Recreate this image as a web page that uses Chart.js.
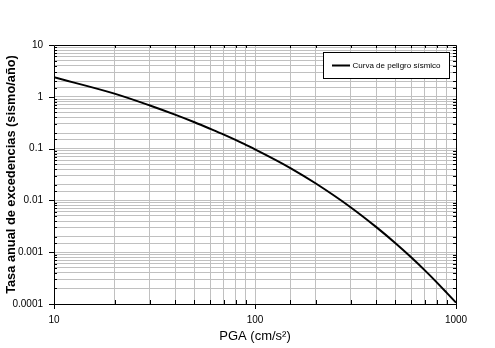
<!DOCTYPE html>
<html>
<head>
<meta charset="utf-8">
<script src="https://cdn.jsdelivr.net/npm/chart.js@4.4.1/dist/chart.umd.min.js"></script>
<style>
html,body{margin:0;padding:0;background:#fff;}
#wrap{width:495px;height:348px;position:relative;}
</style>
</head>
<body>
<div id="wrap"><canvas id="c" width="495" height="348"></canvas></div>
<script>
// Data
const pga = [10, 20, 30, 40, 50, 60, 70, 80, 90, 100, 150, 200, 300, 400, 500, 600, 700, 800, 900, 1000];
const exceedanceRate = [2.38, 1.15, 0.679, 0.452, 0.322, 0.240, 0.186, 0.147, 0.118, 0.0968, 0.0422, 0.0214, 0.00731, 0.00308, 0.00149, 0.000789, 0.000446, 0.000265, 0.000164, 0.000106];
const seriesLabel = 'Curva de peligro sísmico';
const xTickLabels = ['10', '100', '1000'];
const yTickLabels = ['0.0001', '0.001', '0.01', '0.1', '1', '10'];
const xTitle = 'PGA (cm/s²)';
const yTitle = 'Tasa anual de excedencias (sismo/año)';

const FONT = "'Liberation Sans', Arial, sans-serif";

function isDecade(v) {
  const l = Math.log10(v);
  return Math.abs(l - Math.round(l)) < 1e-6;
}
function labelFor(list, v) {
  if (!isDecade(v)) return '';
  const target = Math.round(Math.log10(v));
  for (const s of list) {
    if (Math.round(Math.log10(parseFloat(s))) === target) return s;
  }
  return '';
}

const framePlugin = {
  id: 'frame',
  afterDatasetsDraw(chart) {
    const {ctx, chartArea: a, scales} = chart;
    ctx.save();
    ctx.strokeStyle = '#000';
    ctx.lineWidth = 1;
    ctx.beginPath();
    scales.x.ticks.forEach(t => {
      const px = Math.round(scales.x.getPixelForValue(t.value)) + 0.5;
      if (isDecade(t.value)) {
        ctx.moveTo(px, a.bottom); ctx.lineTo(px, a.bottom + 5);
      } else {
        ctx.moveTo(px, a.bottom); ctx.lineTo(px, a.bottom - 4);
        ctx.moveTo(px, a.top); ctx.lineTo(px, a.top + 3);
      }
    });
    scales.y.ticks.forEach(t => {
      const py = Math.round(scales.y.getPixelForValue(t.value)) + 0.5;
      if (isDecade(t.value)) {
        ctx.moveTo(a.left, py); ctx.lineTo(a.left - 5, py);
      } else {
        ctx.moveTo(a.left, py); ctx.lineTo(a.left + 3, py);
        ctx.moveTo(a.right, py); ctx.lineTo(a.right - 3, py);
      }
    });
    ctx.stroke();
    ctx.beginPath();
    ctx.rect(Math.round(a.left) + 0.5, Math.round(a.top) + 0.5, Math.round(a.right - a.left), Math.round(a.bottom - a.top));
    ctx.stroke();

    // legend box
    const lx = 323, ly = 52, lw = 126, lh = 26;
    ctx.fillStyle = '#fff';
    ctx.fillRect(lx, ly, lw, lh);
    ctx.strokeRect(lx + 0.5, ly + 0.5, lw, lh);
    ctx.lineWidth = 2;
    ctx.beginPath();
    ctx.moveTo(332, 65.5); ctx.lineTo(350, 65.5);
    ctx.stroke();
    ctx.fillStyle = '#000';
    ctx.font = '8px ' + FONT;
    ctx.textBaseline = 'middle';
    ctx.textAlign = 'left';
    ctx.fillText(chart.data.datasets[0].label, 352.5, 65.5);
    ctx.restore();
  }
};

new Chart(document.getElementById('c'), {
  type: 'line',
  data: {
    datasets: [{
      label: seriesLabel,
      data: pga.map((x, i) => ({x: x, y: exceedanceRate[i]})),
      borderColor: '#000',
      borderWidth: 2,
      pointRadius: 0,
      fill: false,
      cubicInterpolationMode: 'monotone'
    }]
  },
  options: {
    responsive: false,
    animation: false,
    devicePixelRatio: 1,
    layout: {padding: {top: 45, right: 39, left: 0, bottom: 0}},
    plugins: {legend: {display: false}, tooltip: {enabled: false}},
    scales: {
      x: {
        type: 'logarithmic',
        min: 10, max: 1000,
        border: {display: false},
        grid: {color: '#c0c0c0', lineWidth: 1, drawTicks: false},
        ticks: {
          autoSkip: false, maxRotation: 0, padding: 10,
          color: '#000', font: {family: FONT, size: 10},
          callback: v => labelFor(xTickLabels, v)
        },
        title: {display: true, text: xTitle, color: '#000', font: {family: FONT, size: 13}, padding: {top: 2, bottom: 4}},
        afterFit: s => { s.height = 44; }
      },
      y: {
        type: 'logarithmic',
        min: 0.0001, max: 10,
        border: {display: false},
        grid: {color: '#c0c0c0', lineWidth: 1, drawTicks: false},
        ticks: {
          autoSkip: false, padding: 11,
          color: '#000', font: {family: FONT, size: 10},
          callback: v => labelFor(yTickLabels, v)
        },
        title: {display: true, text: yTitle, color: '#000', font: {family: FONT, size: 12.8, weight: 'bold'}, padding: {top: 4, bottom: 4}},
        afterFit: s => { s.width = 54; }
      }
    }
  },
  plugins: [framePlugin]
});
</script>
</body>
</html>
